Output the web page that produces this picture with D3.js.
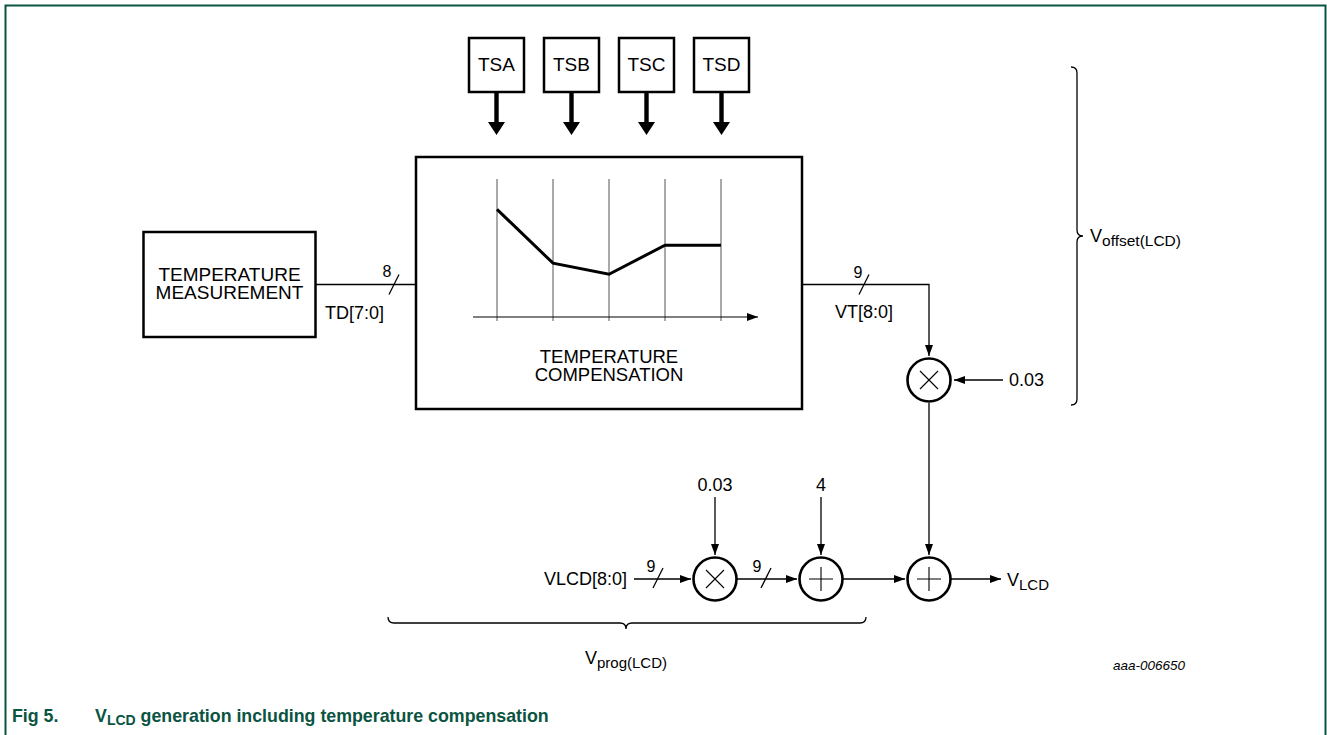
<!DOCTYPE html>
<html><head><meta charset="utf-8">
<script src="https://cdn.jsdelivr.net/npm/d3@7"></script>
<style>
body{margin:0;background:#fff}
svg{display:block}
text{font-family:"Liberation Sans",Arial,Helvetica,sans-serif;fill:#000}
</style>
</head><body>
<svg id="c" width="1327" height="735"></svg>
<script>
// ---------- data ----------
const tsLabels = ["TSA", "TSB", "TSC", "TSD"];
const breakpoints = [0, 1, 2, 3, 4];
const curveValues = [7.8, 3.9, 3.1, 5.2, 5.2];
const curveDomain = [0, 10];
const compLines = ["TEMPERATURE", "COMPENSATION"];
const measLines = ["TEMPERATURE", "MEASUREMENT"];
const busTD = {width: "8", name: "TD[7:0]"};
const busVT = {width: "9", name: "VT[8:0]"};
const busVLCD = {width: "9", name: "VLCD[8:0]"};
const busProd = {width: "9"};
const factorOffset = "0.03";
const factorProg = "0.03";
const offsetConst = "4";
const captionNum = "Fig 5.";
const captionRest = " generation including temperature compensation";
const figId = "aaa-006650";

// ---------- layout ----------
const svg = d3.select("#c");
const GREEN = "#0b5442";
const FS = 18;
const FSB = 19;

const defs = svg.append("defs");
defs.append("marker").attr("id", "ah")
  .attr("viewBox", "0 0 11 8").attr("markerWidth", 11).attr("markerHeight", 8)
  .attr("refX", 11).attr("refY", 4).attr("orient", "auto").attr("markerUnits", "userSpaceOnUse")
  .append("path").attr("d", "M0,0L11,4L0,8Z").attr("fill", "#000");

// frame
svg.append("path").attr("d", "M5.5,745V5.5H1325.5V745")
  .attr("fill", "none").attr("stroke", GREEN).attr("stroke-width", 2);

// TS boxes
const xTS = d3.scaleBand().domain(tsLabels).range([469, 749]).paddingInner(20 / 75).paddingOuter(0);
const tsG = svg.append("g").selectAll("g").data(tsLabels).join("g");
tsG.append("rect").attr("x", d => xTS(d)).attr("y", 38).attr("width", xTS.bandwidth()).attr("height", 54)
  .attr("fill", "#fff").attr("stroke", "#000").attr("stroke-width", 2.5);
tsG.append("text").attr("x", d => xTS(d) + xTS.bandwidth() / 2).attr("y", 71)
  .attr("text-anchor", "middle").attr("font-size", FSB).text(d => d);
tsG.append("path").attr("d", d => {
  const cx = xTS(d) + xTS.bandwidth() / 2;
  return `M${cx - 2.2},93V122H${cx - 8.5}L${cx},135L${cx + 8.5},122H${cx + 2.2}V93Z`;
}).attr("fill", "#000");

// Temperature compensation box
svg.append("rect").attr("x", 416).attr("y", 157).attr("width", 386).attr("height", 252)
  .attr("fill", "none").attr("stroke", "#000").attr("stroke-width", 2.5);

const gx = d3.scalePoint().domain(breakpoints).range([497, 721]);
const gy = d3.scaleLinear().domain(curveDomain).range([317, 179]);
svg.append("g").selectAll("line").data(breakpoints).join("line")
  .attr("x1", d => gx(d)).attr("x2", d => gx(d)).attr("y1", gy(10)).attr("y2", gy(0) + 4)
  .attr("stroke", "#555").attr("stroke-width", 1);
svg.append("line").attr("x1", 473).attr("x2", 758).attr("y1", gy(0)).attr("y2", gy(0))
  .attr("stroke", "#000").attr("stroke-width", 1).attr("marker-end", "url(#ah)");
svg.append("path").datum(curveValues.map((v, i) => [breakpoints[i], v]))
  .attr("d", d3.line().x(d => gx(d[0])).y(d => gy(d[1])))
  .attr("fill", "none").attr("stroke", "#000").attr("stroke-width", 3);
svg.append("g").selectAll("text").data(compLines).join("text")
  .attr("x", 609).attr("y", (d, i) => 362.5 + i * 18.5).attr("text-anchor", "middle")
  .attr("font-size", 18.5).text(d => d);

// Temperature measurement box
svg.append("rect").attr("x", 143.5).attr("y", 232).attr("width", 172).attr("height", 105)
  .attr("fill", "none").attr("stroke", "#000").attr("stroke-width", 2.5);
svg.append("g").selectAll("text").data(measLines).join("text")
  .attr("x", 229.5).attr("y", (d, i) => 280.5 + i * 18.5).attr("text-anchor", "middle")
  .attr("font-size", 19).text(d => d);

const wire = (d, arrow) => {
  const p = svg.append("path").attr("d", d).attr("fill", "none").attr("stroke", "#000").attr("stroke-width", 1.3);
  if (arrow) p.attr("marker-end", "url(#ah)");
  return p;
};
const slash = (cx, cy) => svg.append("line").attr("x1", cx - 5).attr("y1", cy + 10).attr("x2", cx + 5).attr("y2", cy - 10)
  .attr("stroke", "#000").attr("stroke-width", 1.3);
const label = (x, y, t, size, anchor) => svg.append("text").attr("x", x).attr("y", y)
  .attr("font-size", size || FS).attr("text-anchor", anchor || "start").text(t);

// TD bus
wire("M316,284.5H416");
slash(394, 284.5);
label(387, 277, busTD.width, 16, "middle");
label(325, 319, busTD.name);

// VT bus
wire("M802,284.5H929V356", true);
slash(864, 284.5);
label(858, 278, busVT.width, 16, "middle");
label(835, 318, busVT.name);

// operators
const ops = [
  {x: 929, y: 380, s: "x"},
  {x: 715, y: 579, s: "x"},
  {x: 821, y: 579, s: "+"},
  {x: 929, y: 579, s: "+"}
];
const opG = svg.append("g").selectAll("g").data(ops).join("g").attr("transform", d => `translate(${d.x},${d.y})`);
opG.append("circle").attr("r", 21.5).attr("fill", "#fff").attr("stroke", "#000").attr("stroke-width", 2.6);
opG.append("path").attr("d", d => d.s === "x" ? "M-9,-9L9,9M9,-9L-9,9" : "M-12,0H12M0,-12V12")
  .attr("stroke", "#000").attr("stroke-width", 1.1);

// offset factor
wire("M1003,380H954", true);
label(1009, 386, factorOffset);
wire("M929,403V555", true);

// prog path
label(544, 585, busVLCD.name);
wire("M634,579H691", true);
slash(658, 578);
label(651, 572, busVLCD.width, 16, "middle");
label(715, 491, factorProg, FS, "middle");
wire("M715,497V555", true);
wire("M737,579H797", true);
slash(766, 578);
label(757, 572, busProd.width, 16, "middle");
label(821, 491, offsetConst, FS, "middle");
wire("M821,497V555", true);
wire("M843,579H905", true);
wire("M951,579H1001", true);
const vl = label(1007, 586, "V");
vl.append("tspan").attr("font-size", 15).attr("dy", 4).text("LCD");

// braces
wire("M1071,67Q1077,67 1077,73V230Q1077,236 1083,236Q1077,236 1077,242V399Q1077,405 1071,405");
const vo = label(1090, 242, "V");
vo.append("tspan").attr("font-size", 15.5).attr("dy", 4).text("offset(LCD)");

wire("M388,617Q388,623 394,623H620Q626,623 626,629Q626,623 632,623H860Q866,623 866,617");
const vp = svg.append("text").attr("x", 626).attr("y", 664).attr("text-anchor", "middle").attr("font-size", FS);
vp.append("tspan").text("V");
vp.append("tspan").attr("font-size", 15).attr("dy", 4).text("prog(LCD)");

svg.append("text").attr("x", 1185).attr("y", 670).attr("text-anchor", "end").attr("font-size", 13.5)
  .attr("font-style", "italic").attr("fill", "#222").text(figId);

// caption
const cap = svg.append("g");
cap.append("text").attr("x", 12).attr("y", 722).attr("font-size", 17.8).attr("font-weight", "bold")
  .style("fill", GREEN).text(captionNum);
const ct = cap.append("text").attr("x", 95).attr("y", 722).attr("font-size", 17.8).attr("font-weight", "bold").style("fill", GREEN);
ct.append("tspan").text("V");
ct.append("tspan").attr("font-size", 14).attr("dy", 3).text("LCD");
ct.append("tspan").attr("font-size", 17.8).attr("dy", -3).text(captionRest);
</script>
</body></html>
